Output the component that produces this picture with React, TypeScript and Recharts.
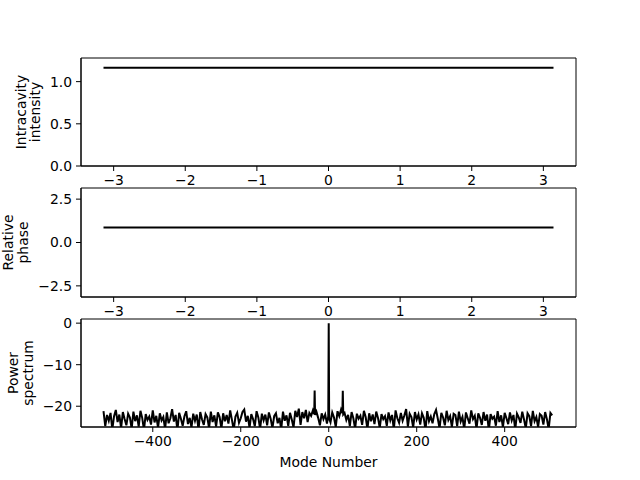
import React from "react"
import {
  LineChart, Line, XAxis, YAxis, ReferenceArea, Label,
} from "recharts"

// top panel: intracavity intensity vs phase position
const fieldX = [-3.1416, -2.3562, -1.5708, -0.7854, 0, 0.7854, 1.5708, 2.3562, 3.1416]
const intensity = [1.164, 1.164, 1.164, 1.164, 1.164, 1.164, 1.164, 1.164, 1.164]
// middle panel: relative phase
const phase = [0.86, 0.86, 0.86, 0.86, 0.86, 0.86, 0.86, 0.86, 0.86]

const fieldTicks = [-3, -2, -1, 0, 1, 2, 3]
const intensityTicks = [0, 0.5, 1.0]
const phaseTicks = [-2.5, 0, 2.5]

// bottom panel: power spectrum (dB) per mode number
const modes = [
  -512, -508, -504, -500, -496, -492, -488, -484, -480, -476, -472, -468, -464, -460, -456, -452,
  -448, -444, -440, -436, -432, -428, -424, -420, -416, -412, -408, -404, -400, -396, -392, -388,
  -384, -380, -376, -372, -368, -364, -360, -356, -352, -348, -344, -340, -336, -332, -328, -324,
  -320, -316, -312, -308, -304, -300, -296, -292, -288, -284, -280, -276, -272, -268, -264, -260,
  -256, -252, -248, -244, -240, -236, -232, -228, -224, -220, -216, -212, -208, -204, -200, -196,
  -192, -188, -184, -180, -176, -172, -168, -164, -160, -156, -152, -148, -144, -140, -136, -132,
  -128, -124, -120, -116, -112, -108, -104, -100, -96, -92, -88, -84, -80, -76, -72, -68,
  -64, -60, -56, -52, -48, -44, -40, -36, -33, -32, -31, -28, -24, -20, -16, -12, -8, -4, -1,
  0, 1, 4, 8, 12, 16, 20, 24, 28, 31, 32, 33, 36, 40, 44, 48, 52, 56, 60,
  64, 68, 72, 76, 80, 84, 88, 92, 96, 100, 104, 108, 112, 116, 120, 124,
  128, 132, 136, 140, 144, 148, 152, 156, 160, 164, 168, 172, 176, 180, 184, 188,
  192, 196, 200, 204, 208, 212, 216, 220, 224, 228, 232, 236, 240, 244, 248, 252,
  256, 260, 264, 268, 272, 276, 280, 284, 288, 292, 296, 300, 304, 308, 312, 316,
  320, 324, 328, 332, 336, 340, 344, 348, 352, 356, 360, 364, 368, 372, 376, 380,
  384, 388, 392, 396, 400, 404, 408, 412, 416, 420, 424, 428, 432, 436, 440, 444,
  448, 452, 456, 460, 464, 468, 472, 476, 480, 484, 488, 492, 496, 500, 504, 508,
]
const power = [
  -21.2, -24.8, -22.1, -23.5, -21.6, -25.6, -22.4, -20.9, -23.8, -22.0, -25.3, -21.4, -23.1, -24.6, -21.8, -22.7,
  -25.4, -21.3, -23.6, -22.2, -24.9, -21.1, -22.8, -25.7, -21.9, -23.3, -22.5, -24.4, -21.0, -23.9, -22.3, -25.2,
  -21.7, -23.4, -22.6, -25.5, -21.5, -24.1, -22.9, -20.7, -23.7, -22.1, -25.8, -21.6, -23.0, -24.7, -22.4, -21.2,
  -24.3, -22.8, -25.1, -21.8, -23.5, -22.0, -25.6, -21.4, -23.2, -24.5, -21.9, -22.7, -25.3, -21.3, -23.8, -22.2,
  -24.9, -21.5, -22.6, -25.4, -21.7, -23.6, -22.1, -24.2, -21.0, -23.3, -25.7, -22.5, -21.6, -24.0, -22.9, -21.4,
  -20.8, -23.7, -22.3, -25.2, -21.9, -23.1, -24.8, -21.2, -22.7, -25.5, -21.8, -23.4, -22.0, -24.6, -21.5, -23.0,
  -25.3, -22.4, -21.7, -24.1, -22.8, -25.6, -21.3, -23.5, -22.2, -24.7, -21.6, -23.2, -25.1, -21.1, -22.6, -20.6,
  -24.5, -21.4, -22.9, -20.9, -23.8, -21.6, -22.3, -21.0, -21.9, -16.2, -22.1, -21.3, -22.8, -24.6, -21.7, -23.1, -22.0, -24.2, -22.4,
  0, -23.0, -23.9, -21.5, -22.7, -25.0, -21.2, -22.4, -20.8, -21.7, -16.3, -22.0, -21.6, -23.3, -22.1, -24.8, -21.4, -22.9, -25.4,
  -21.8, -23.0, -22.3, -24.5, -21.1, -22.6, -25.5, -21.7, -23.6, -22.0, -24.3, -21.3, -22.8, -25.2, -21.9, -23.1,
  -22.4, -24.7, -21.5, -23.4, -22.1, -25.6, -21.0, -22.9, -24.0, -21.6, -23.5, -22.2, -20.7, -24.9, -21.8, -22.6,
  -25.1, -21.4, -23.2, -22.0, -24.4, -21.7, -22.8, -25.7, -21.2, -23.6, -22.5, -24.1, -21.9, -20.9, -23.0, -25.3,
  -21.6, -22.7, -24.6, -21.1, -23.3, -22.4, -25.0, -21.8, -22.1, -24.8, -21.3, -23.7, -22.6, -25.5, -21.5, -22.9,
  -24.2, -21.0, -23.1, -22.3, -25.4, -21.7, -22.8, -24.5, -21.4, -23.5, -22.0, -25.8, -21.9, -23.0, -22.5, -24.7,
  -21.2, -23.8, -22.2, -25.1, -21.6, -22.9, -24.3, -21.5, -23.4, -22.1, -25.6, -21.8, -22.7, -24.0, -21.3, -23.2,
  -25.3, -21.7, -22.4, -24.8, -21.1, -23.6, -22.6, -25.0, -21.9, -22.3, -24.4, -21.4, -23.1, -25.5, -21.6, -22.2,
]
const modeTicks = [-400, -200, 0, 200, 400]
const powerTicks = [-20, -10, 0]

const fieldData = fieldX.map((x, i) => ({ x, intensity: intensity[i], phase: phase[i] }))
const spectrumData = modes.map((m, i) => ({ m, p: power[i] }))

const FONT = "DejaVu Sans, sans-serif"
const FS = 13.9
const tickStyle = { fill: "#000", fontSize: FS, fontFamily: FONT }
const minus = (s: string) => s.replace(/-/g, "\u2212")
const fmt1 = (v: number) => minus(v.toFixed(1))
const fmt0 = (v: number) => minus(String(v))

const FIELD_DOMAIN: [number, number] = [-3.4558, 3.4558]
const MODE_DOMAIN: [number, number] = [-563.15, 562.15]

function yLabel(lines: [string, string], xs: [number, number]) {
  return (props: any) => {
    const vb = props.viewBox
    const cy = vb.y + vb.height / 2
    return (
      <g>
        {lines.map((t, i) => (
          <text
            key={t}
            x={xs[i]}
            y={cy}
            transform={`rotate(-90, ${xs[i]}, ${cy})`}
            textAnchor="middle"
            dominantBaseline="central"
            fontSize={FS}
            fontFamily={FONT}
            fill="#000"
          >
            {t}
          </text>
        ))}
      </g>
    )
  }
}

const margin = { top: 10, right: 64, left: 41, bottom: 0 }

export default function App() {
  return (
    <div style={{ position: "absolute", left: 0, top: 0, width: 640, height: 480, background: "#fff" }}>
      <div style={{ position: "absolute", left: 0, top: 48 }}>
        <LineChart width={640} height={148} data={fieldData} margin={margin}>
          <XAxis
            dataKey="x" type="number" domain={FIELD_DOMAIN} ticks={fieldTicks} allowDataOverflow
            tickFormatter={fmt0} tick={tickStyle} stroke="#000" tickSize={5} tickMargin={4} height={30}
          />
          <YAxis
            type="number" domain={[0, 1.28]} ticks={intensityTicks} allowDataOverflow
            tickFormatter={fmt1} tick={tickStyle} stroke="#000" tickSize={5} tickMargin={4} width={40}
          >
            <Label content={yLabel(["Intracavity", "intensity"], [21, 35])} />
          </YAxis>
          <ReferenceArea x1={FIELD_DOMAIN[0]} x2={FIELD_DOMAIN[1]} y1={0} y2={1.28} fill="none" stroke="#000" strokeOpacity={1} />
          <Line dataKey="intensity" stroke="#000" strokeWidth={2} dot={false} isAnimationActive={false} />
        </LineChart>
      </div>
      <div style={{ position: "absolute", left: 0, top: 178 }}>
        <LineChart width={640} height={149} data={fieldData} margin={margin}>
          <XAxis
            dataKey="x" type="number" domain={FIELD_DOMAIN} ticks={fieldTicks} allowDataOverflow
            tickFormatter={fmt0} tick={tickStyle} stroke="#000" tickSize={5} tickMargin={4} height={30}
          />
          <YAxis
            type="number" domain={[-3.1416, 3.1416]} ticks={phaseTicks} allowDataOverflow
            tickFormatter={fmt1} tick={tickStyle} stroke="#000" tickSize={5} tickMargin={4} width={40}
          >
            <Label content={yLabel(["Relative", "phase"], [8, 23])} />
          </YAxis>
          <ReferenceArea x1={FIELD_DOMAIN[0]} x2={FIELD_DOMAIN[1]} y1={-3.1416} y2={3.1416} fill="none" stroke="#000" strokeOpacity={1} />
          <Line dataKey="phase" stroke="#000" strokeWidth={2} dot={false} isAnimationActive={false} />
        </LineChart>
      </div>
      <div style={{ position: "absolute", left: 0, top: 309 }}>
        <LineChart width={640} height={168} data={spectrumData} margin={margin}>
          <XAxis
            dataKey="m" type="number" domain={MODE_DOMAIN} ticks={modeTicks} allowDataOverflow
            tickFormatter={fmt0} tick={tickStyle} stroke="#000" tickSize={5} tickMargin={4} height={50}
          >
            <Label value="Mode Number" position="insideBottom" offset={10} fill="#000" fontSize={FS} fontFamily={FONT} />
          </XAxis>
          <YAxis
            type="number" domain={[-25, 1]} ticks={powerTicks} allowDataOverflow
            tickFormatter={fmt0} tick={tickStyle} stroke="#000" tickSize={5} tickMargin={4} width={40}
          >
            <Label content={yLabel(["Power", "spectrum"], [13, 28])} />
          </YAxis>
          <ReferenceArea x1={MODE_DOMAIN[0]} x2={MODE_DOMAIN[1]} y1={-25} y2={1} fill="none" stroke="#000" strokeOpacity={1} />
          <Line dataKey="p" stroke="#000" strokeWidth={2} dot={false} isAnimationActive={false} />
        </LineChart>
      </div>
    </div>
  )
}
